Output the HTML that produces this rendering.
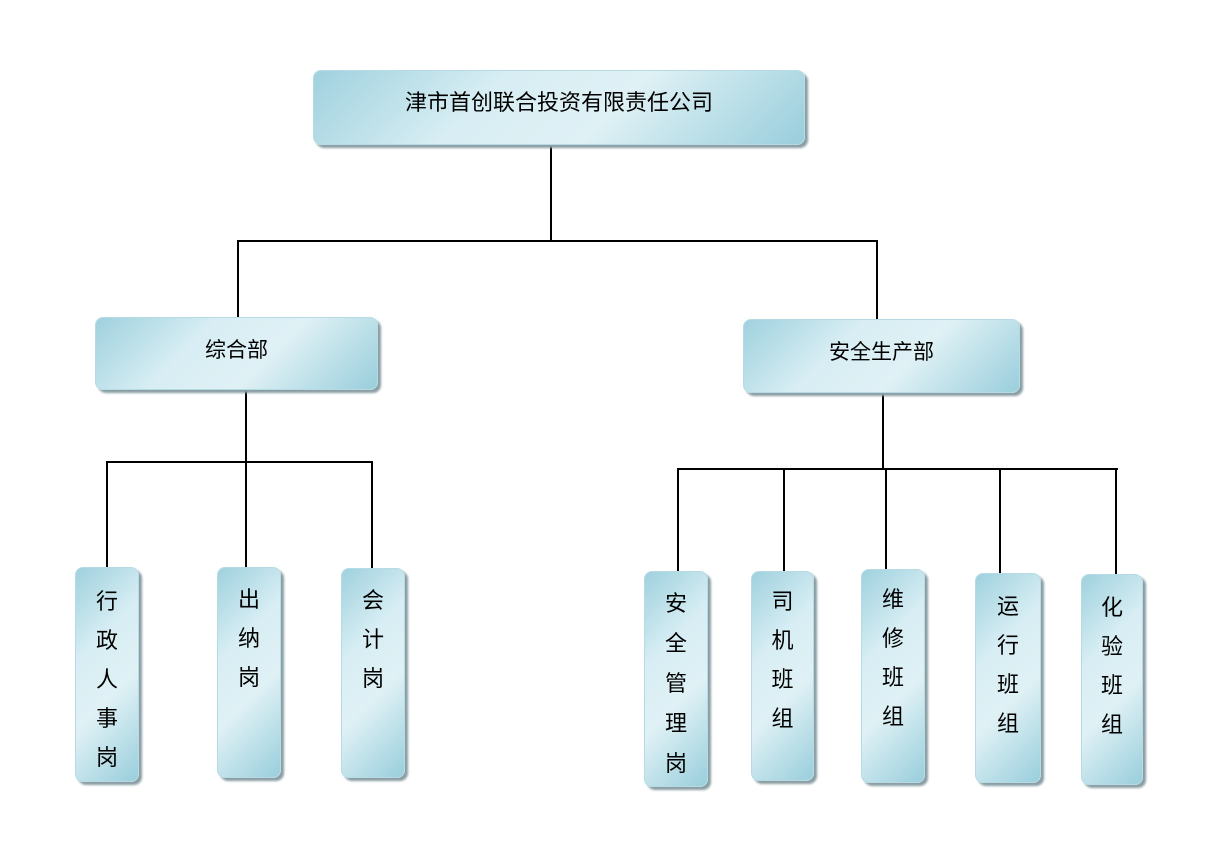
<!DOCTYPE html>
<html><head><meta charset="utf-8"><style>
body{margin:0;width:1226px;height:848px;background:#fff;position:relative;overflow:hidden;font-family:"Liberation Sans","Noto Sans CJK SC",sans-serif;}
.b{position:absolute;box-sizing:border-box;border-radius:8px;border:1px solid #b6dbe5;
background:linear-gradient(135deg,#9fd1de 0%,#d8eef4 35%,#dff1f5 60%,#99cedc 100%);
box-shadow:3px 3px 2px #8a9ea4;color:#000;display:flex;justify-content:center;align-items:center;}
.v{align-items:flex-start;font-size:22px;line-height:39px;text-align:center;padding-top:18px;}
.l{position:absolute;background:#000;}
</style></head><body>
<div class="l" style="left:550px;top:145px;width:2px;height:96px"></div>
<div class="l" style="left:237px;top:240px;width:641px;height:2px"></div>
<div class="l" style="left:237px;top:240px;width:2px;height:77px"></div>
<div class="l" style="left:876px;top:240px;width:2px;height:79px"></div>
<div class="l" style="left:245px;top:390px;width:2px;height:177px"></div>
<div class="l" style="left:106px;top:461px;width:267px;height:2px"></div>
<div class="l" style="left:106px;top:461px;width:2px;height:106px"></div>
<div class="l" style="left:371px;top:461px;width:2px;height:107px"></div>
<div class="l" style="left:882px;top:393px;width:2px;height:76px"></div>
<div class="l" style="left:677px;top:468px;width:441px;height:2px"></div>
<div class="l" style="left:677px;top:468px;width:2px;height:103px"></div>
<div class="l" style="left:783px;top:468px;width:2px;height:103px"></div>
<div class="l" style="left:885px;top:468px;width:2px;height:101px"></div>
<div class="l" style="left:999px;top:468px;width:2px;height:105px"></div>
<div class="l" style="left:1115px;top:468px;width:2px;height:106px"></div>

<div class="b" style="left:313px;top:70px;width:492px;height:75px;font-size:22px;padding-bottom:14px">津市首创联合投资有限责任公司</div>
<div class="b" style="left:95px;top:317px;width:283px;height:73px;font-size:21px;padding-bottom:10px">综合部</div>
<div class="b" style="left:743px;top:319px;width:277px;height:74px;font-size:21px;padding-bottom:10px">安全生产部</div>

<div class="b v" style="left:75px;top:567px;width:64px;height:215px;padding-top:14px">行<br>政<br>人<br>事<br>岗</div>
<div class="b v" style="left:217px;top:567px;width:64px;height:211px;padding-top:12px">出<br>纳<br>岗</div>
<div class="b v" style="left:341px;top:568px;width:64px;height:210px;padding-top:12px">会<br>计<br>岗</div>
<div class="b v" style="left:644px;top:571px;width:64px;height:216px;padding-top:12px;line-height:40px">安<br>全<br>管<br>理<br>岗</div>
<div class="b v" style="left:751px;top:571px;width:63px;height:210px;padding-top:10px">司<br>机<br>班<br>组</div>
<div class="b v" style="left:861px;top:569px;width:64px;height:214px;padding-top:10px">维<br>修<br>班<br>组</div>
<div class="b v" style="left:975px;top:573px;width:66px;height:210px;padding-top:13px">运<br>行<br>班<br>组</div>
<div class="b v" style="left:1081px;top:574px;width:62px;height:211px;padding-top:13px">化<br>验<br>班<br>组</div>
</body></html>
